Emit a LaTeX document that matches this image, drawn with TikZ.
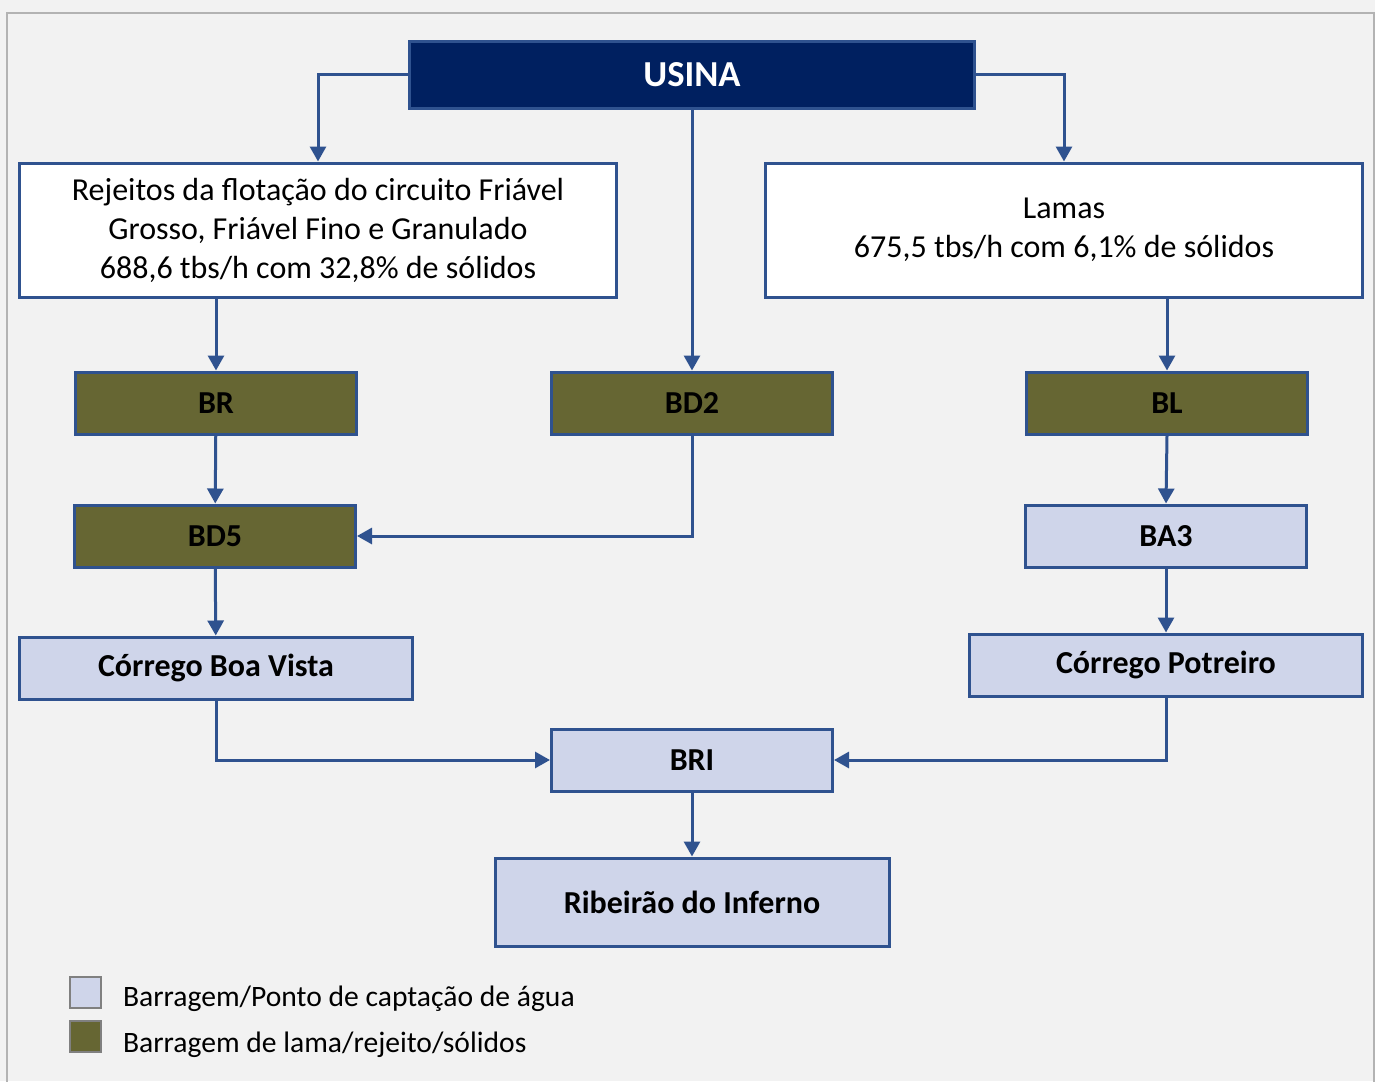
\documentclass[tikz,border=0pt]{standalone}
\usepackage{fontspec}
\setmainfont{Carlito}
\usetikzlibrary{arrows.meta}
\definecolor{navy}{RGB}{0,32,96}
\definecolor{edge}{RGB}{47,82,143}
\definecolor{olive}{RGB}{102,102,51}
\definecolor{pale}{RGB}{207,213,234}
\definecolor{paper}{RGB}{242,242,242}
\definecolor{frame}{RGB}{179,179,179}

\begin{document}
\begin{tikzpicture}[x=0.5pt, y=-0.5pt,
    box/.style={draw=edge, line width=1.5pt, minimum height=31pt, minimum width=140.5pt, inner sep=0pt, font=\fontsize{16}{19}\selectfont\bfseries},
    damlama/.style={box, fill=olive},
    damagua/.style={box, fill=pale},
    info/.style={draw=edge, line width=1.5pt, fill=white, minimum width=298.5pt, minimum height=67pt, align=center, font=\fontsize{16}{19.5}\selectfont},
    flow/.style={draw=edge, line width=1.5pt, -{Triangle[length=7.5pt,width=8pt]}},
    key/.style={draw=gray, line width=1pt, minimum size=15.5pt, inner sep=0pt}]
      \useasboundingbox (0,0) rectangle (1375,1081);
      \fill[paper] (0,0) rectangle (1375,1081);
      \draw[frame, line width=1.2pt] (7,1100) -- (7,13) -- (1374,13) -- (1374,1100);
      % top
      \node[box, fill=navy, text=white, minimum width=282.5pt, minimum height=33.5pt, font=\fontsize{18.3}{21}\selectfont\bfseries] (usina) at (692,75) {USINA};
      \node[info] (rej) at (318,230) {Rejeitos da flotação do circuito Friável\\Grosso, Friável Fino e Granulado\\688,6 tbs/h com 32,8\% de sólidos};
      \node[info] (lamas) at (1064,230) {Lamas\\675,5 tbs/h com 6,1\% de sólidos};
      % barragens
      \node[damlama] (br) at (216,403) {BR};
      \node[damlama] (bd2) at (692,403) {BD2};
      \node[damlama] (bl) at (1167,403) {BL};
      \node[damlama] (bd5) at (215,536) {BD5};
      \node[damagua] (ba3) at (1166,536) {BA3};
      \node[damagua, minimum width=196.5pt] (boavista) at (216,668) {Córrego Boa Vista};
      \node[damagua, minimum width=196.5pt] (potreiro) at (1166,665) {Córrego Potreiro};
      \node[damagua] (bri) at (692,760) {BRI};
      \node[damagua, minimum width=197pt, minimum height=44pt] (inferno) at (692,902) {Ribeirão do Inferno};
      % ligacoes
      \draw[flow] (usina.west) -| (rej.north);
      \draw[flow] (usina.east) -| (lamas.north);
      \draw[flow] (usina.south) -- (bd2.north);
      \draw[flow] (rej.south -| br.north) -- (br.north);
      \draw[flow] (lamas.south -| bl.north) -- (bl.north);
      \draw[flow] (br) -- (bd5);
      \draw[flow] (bd2.south) |- (bd5.east);
      \draw[flow] (bl.south) -- (ba3.north);
      \draw[flow] (bd5) -- (boavista);
      \draw[flow] (ba3) -- (potreiro);
      \draw[flow] (boavista.south) |- (bri.west);
      \draw[flow] (potreiro.south) |- (bri.east);
      \draw[flow] (bri) -- (inferno);
      % legenda
      \node[key, fill=pale] (keyagua) at (85,992) {};
      \node[key, fill=olive] (keylama) at (85,1036) {};
      \node[anchor=west, font=\fontsize{14.8}{17}\selectfont] (txtagua) at (116,999) {Barragem/Ponto de captação de água};
      \node[anchor=west, font=\fontsize{14.8}{17}\selectfont] (txtlama) at (116,1045) {Barragem de lama/rejeito/sólidos};
\end{tikzpicture}
\end{document}
